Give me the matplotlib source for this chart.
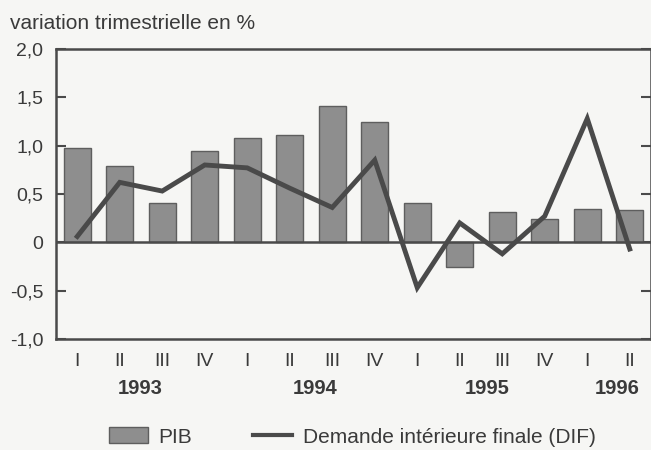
import numpy as np
import matplotlib.pyplot as plt
from matplotlib.patches import Patch
from matplotlib.lines import Line2D
from matplotlib.transforms import blended_transform_factory

plt.rcParams['font.family'] = ['Liberation Sans', 'DejaVu Sans']

quarters = ['I', 'II', 'III', 'IV', 'I', 'II', 'III', 'IV', 'I', 'II', 'III', 'IV', 'I', 'II']
pib = [0.98, 0.79, 0.41, 0.94, 1.08, 1.11, 1.41, 1.24, 0.41, -0.26, 0.31, 0.24, 0.34, 0.33]
dif = [0.06, 0.62, 0.53, 0.80, 0.77, 0.56, 0.36, 0.85, -0.47, 0.20, -0.12, 0.27, 1.28, -0.07]
years = ['1993', '1994', '1995', '1996']
year_pos = [1.48, 5.6, 9.65, 12.7]
yticks = [-1.0, -0.5, 0, 0.5, 1.0, 1.5, 2.0]
ytick_labels = ['-1,0', '-0,5', '0', '0,5', '1,0', '1,5', '2,0']

bg = '#f6f6f4'
dark = '#4a4a4a'
txt = '#3a3a3a'

fig = plt.figure(figsize=(6.51, 4.5), dpi=100, facecolor=bg)
ax = fig.add_axes([0.086, 0.247, 0.914, 0.644], facecolor=bg)

x = np.arange(len(quarters))
ax.bar(x, pib, width=0.64, color='#8e8e8e', edgecolor='#5e5e5e', linewidth=1.0, zorder=2)
ax.axhline(0, color=dark, lw=1.8, zorder=3)
ax.plot(x, dif, color=dark, lw=3.5, solid_joinstyle='miter', zorder=4)

ax.set_xlim(-0.5, len(quarters) - 0.5)
ax.set_ylim(-1.0, 2.0)
ax.set_yticks(yticks)
ax.set_yticklabels(ytick_labels)
ax.set_xticks(x)
ax.set_xticklabels(quarters)

for s in ax.spines.values():
    s.set_color(dark)
    s.set_linewidth(1.8)

ax.tick_params(axis='y', direction='in', length=7, width=1.5, color=dark,
               labelsize=14, labelcolor=txt, pad=9, right=True)
ax.tick_params(axis='x', length=0, labelsize=14, labelcolor=txt, pad=10)

trans = blended_transform_factory(ax.transData, ax.transAxes)
for pos, yr in zip(year_pos, years):
    ax.text(pos, -0.17, yr, transform=trans, ha='center', va='center',
            fontsize=14.5, fontweight='bold', color=txt)

fig.text(0.015, 0.948, 'variation trimestrielle en %', fontsize=15, color=txt,
         ha='left', va='center')

handles = [Patch(facecolor='#8e8e8e', edgecolor='#5e5e5e'),
           Line2D([], [], color=dark, lw=3)]
fig.legend(handles, ['PIB', 'Demande intérieure finale (DIF)'], loc='center',
           bbox_to_anchor=(0.541, 0.029), ncol=2, frameon=False, fontsize=15,
           handlelength=1.9, handleheight=0.8, handletextpad=0.5,
           columnspacing=2.9, labelcolor=txt)

fig.savefig('out.png', dpi=100, facecolor=bg)
